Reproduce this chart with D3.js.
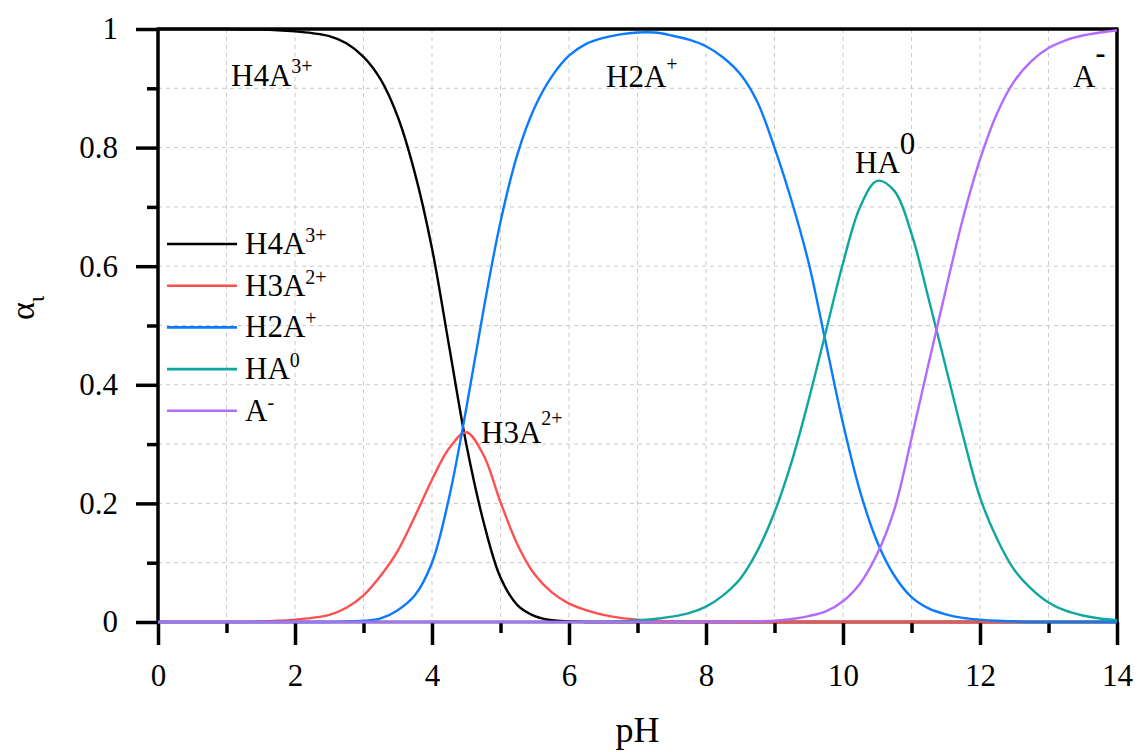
<!DOCTYPE html>
<html>
<head>
<meta charset="utf-8">
<script src="https://cdn.jsdelivr.net/npm/d3@7.9.0/dist/d3.min.js"></script>
<style>
  body { margin: 0; background: #fff; }
  svg { display: block; font-family: 'Liberation Serif', 'Times New Roman', serif; }
</style>
</head>
<body>
<svg id="chart" width="1138" height="752"></svg>
<script>
// pH grid, one row per whole pH unit
const pH = [
  0, 0.25, 0.5, 0.75,
  1, 1.25, 1.5, 1.75,
  2, 2.25, 2.5, 2.75,
  3, 3.25, 3.5, 3.75,
  4, 4.25, 4.5, 4.75,
  5, 5.25, 5.5, 5.75,
  6, 6.25, 6.5, 6.75,
  7, 7.25, 7.5, 7.75,
  8, 8.25, 8.5, 8.75,
  9, 9.25, 9.5, 9.75,
  10, 10.25, 10.5, 10.75,
  11, 11.25, 11.5, 11.75,
  12, 12.25, 12.5, 12.75,
  13, 13.25, 13.5, 13.75,
  14
];

// species fractions
const h4a = [
  1, 1, 1, 1,
  1, 0.999, 0.999, 0.998,
  0.996, 0.993, 0.988, 0.976,
  0.953, 0.915, 0.852, 0.757,
  0.63, 0.465, 0.30, 0.17,
  0.075, 0.028, 0.01, 0.003,
  0.001, 0, 0, 0,
  0, 0, 0, 0,
  0, 0, 0, 0,
  0, 0, 0, 0,
  0, 0, 0, 0,
  0, 0, 0, 0,
  0, 0, 0, 0,
  0, 0, 0, 0,
  0
];
const h3a = [
  0, 0, 0, 0,
  0, 0, 0.001, 0.002,
  0.004, 0.007, 0.012, 0.024,
  0.045, 0.078, 0.12, 0.178,
  0.24, 0.293, 0.32, 0.282,
  0.202, 0.13, 0.08, 0.05,
  0.031, 0.02, 0.012, 0.007,
  0.004, 0.002, 0.001, 0,
  0, 0, 0, 0,
  0, 0, 0, 0,
  0, 0, 0, 0,
  0, 0, 0, 0,
  0, 0, 0, 0,
  0, 0, 0, 0,
  0
];
const h2a = [
  0, 0, 0, 0,
  0, 0, 0, 0,
  0, 0, 0, 0.001,
  0.002, 0.006, 0.02, 0.045,
  0.1, 0.21, 0.36, 0.525,
  0.675, 0.79, 0.868, 0.92,
  0.955, 0.975, 0.985, 0.991,
  0.994, 0.994, 0.989, 0.982,
  0.971, 0.952, 0.924, 0.877,
  0.80, 0.71, 0.605, 0.47,
  0.335, 0.22, 0.135, 0.078,
  0.042, 0.023, 0.013, 0.007,
  0.004, 0.002, 0.001, 0,
  0, 0, 0, 0,
  0
];
const ha = [
  0, 0, 0, 0,
  0, 0, 0, 0,
  0, 0, 0, 0,
  0, 0, 0, 0,
  0, 0, 0, 0,
  0, 0, 0, 0,
  0, 0, 0, 0.001,
  0.003, 0.005, 0.009, 0.015,
  0.026, 0.045, 0.073, 0.12,
  0.185, 0.27, 0.375, 0.49,
  0.605, 0.70, 0.744, 0.727,
  0.655, 0.545, 0.43, 0.315,
  0.21, 0.14, 0.088, 0.056,
  0.033, 0.019, 0.011, 0.006,
  0.003
];
const aMinus = [
  0, 0, 0, 0,
  0, 0, 0, 0,
  0, 0, 0, 0,
  0, 0, 0, 0,
  0, 0, 0, 0,
  0, 0, 0, 0,
  0, 0, 0, 0,
  0, 0, 0, 0,
  0, 0, 0.001, 0.001,
  0.002, 0.005, 0.01, 0.018,
  0.035, 0.065, 0.115, 0.19,
  0.31, 0.436, 0.56, 0.68,
  0.78, 0.858, 0.912, 0.946,
  0.968, 0.981, 0.989, 0.994,
  0.998
];

const names = ['H4A', 'H3A', 'H2A', 'HA', 'A'];
const charges = ['3+', '2+', '+', '0', '-'];
const colors = ['#000000', '#ff5050', '#0a7bff', '#0ea69f', '#b36bff'];
const xMajor = [0, 2, 4, 6, 8, 10, 12, 14];
const xMinor = [1, 3, 5, 7, 9, 11, 13];
const yMajor = [0, 0.2, 0.4, 0.6, 0.8, 1];
const yMinor = [0.1, 0.3, 0.5, 0.7, 0.9];

const seriesValues = [h4a, h3a, h2a, ha, aMinus];
const series = names.map((n, i) => ({
  name: n,
  charge: charges[i],
  color: colors[i],
  points: pH.map((p, j) => [p, seriesValues[i][j]]),
}));

const plot = { left: 158, right: 1117, top: 29, bottom: 622 };

const svg = d3.select('#chart');

const xScale = d3.scaleLinear().domain([0, 14]).range([plot.left, plot.right]);
const yScale = d3.scaleLinear().domain([0, 1]).range([plot.bottom, plot.top]);

// dashed grid
const grid = svg.append('g')
  .attr('stroke', '#c9c9c9')
  .attr('stroke-width', 1)
  .attr('stroke-dasharray', '4,4');

grid.selectAll('line.v')
  .data(d3.range(1, 14))
  .join('line')
  .attr('class', 'v')
  .attr('x1', (d) => xScale(d)).attr('x2', (d) => xScale(d))
  .attr('y1', plot.top).attr('y2', plot.bottom);

grid.selectAll('line.h')
  .data(d3.range(1, 10).map((d) => d / 10))
  .join('line')
  .attr('class', 'h')
  .attr('x1', plot.left).attr('x2', plot.right)
  .attr('y1', (d) => yScale(d)).attr('y2', (d) => yScale(d));

// axes
const axisW = 3.5;
const fontTick = 31;

function styleAxis(g) {
  g.select('.domain').remove();
  g.selectAll('.tick line').attr('stroke', '#000').attr('stroke-width', axisW);
  g.selectAll('.tick text')
    .attr('fill', '#000')
    .style('font-size', fontTick + 'px')
    .style('font-family', "'Liberation Serif', 'Times New Roman', serif");
}

svg.append('g')
  .attr('transform', `translate(0, ${plot.bottom})`)
  .call(d3.axisBottom(xScale).tickValues(xMinor).tickSize(11).tickFormat(''))
  .call(styleAxis);

svg.append('g')
  .attr('transform', `translate(0, ${plot.bottom})`)
  .call(d3.axisBottom(xScale).tickValues(xMajor).tickSize(23).tickPadding(19).tickFormat(d3.format('d')))
  .call(styleAxis);

svg.append('g')
  .attr('transform', `translate(${plot.left}, 0)`)
  .call(d3.axisLeft(yScale).tickValues(yMinor).tickSize(11).tickFormat(''))
  .call(styleAxis);

svg.append('g')
  .attr('transform', `translate(${plot.left}, 0)`)
  .call(d3.axisLeft(yScale).tickValues(yMajor).tickSize(22).tickPadding(18).tickFormat((d) => String(+d.toFixed(1))))
  .call(styleAxis);

// frame: left, bottom, top, right
const frame = svg.append('g').attr('stroke', '#000').attr('stroke-width', axisW).attr('fill', 'none');
frame.append('line').attr('x1', plot.left).attr('x2', plot.left).attr('y1', plot.top - 1.5).attr('y2', plot.bottom + 1.5);
frame.append('line').attr('x1', plot.left).attr('x2', plot.right).attr('y1', plot.bottom).attr('y2', plot.bottom).attr('stroke-width', 2.5);
frame.append('line').attr('x1', plot.left).attr('x2', plot.right + 1.5).attr('y1', plot.top).attr('y2', plot.top);
frame.append('line').attr('x1', plot.right).attr('x2', plot.right).attr('y1', plot.top).attr('y2', plot.bottom);

// curves
const line = d3.line()
  .x((d) => xScale(d[0]))
  .y((d) => yScale(d[1]))
  .curve(d3.curveCatmullRom.alpha(0.5));

svg.append('g')
  .selectAll('path')
  .data(series)
  .join('path')
  .attr('d', (d) => line(d.points))
  .attr('fill', 'none')
  .attr('stroke', (d) => d.color)
  .attr('stroke-width', 2.4);

// legend
const legend = svg.append('g').attr('transform', 'translate(167, 244)');
const rows = legend.selectAll('g')
  .data(series)
  .join('g')
  .attr('transform', (d, i) => `translate(0, ${i * 41.7})`);

rows.append('line')
  .attr('x1', 0).attr('x2', 70)
  .attr('stroke', (d) => d.color)
  .attr('stroke-width', 2.6);

const legText = rows.append('text')
  .attr('x', 78)
  .attr('y', 10)
  .style('font-size', '31px')
  .attr('fill', '#000');
legText.append('tspan').text((d) => d.name);
legText.append('tspan')
  .attr('dy', -12)
  .style('font-size', '20px')
  .text((d) => d.charge);

// labels inside the plot
function label(x, y, main, sup, supSize, supDy, supWeight) {
  const t = svg.append('text')
    .attr('x', x).attr('y', y)
    .style('font-size', '31px')
    .attr('fill', '#000');
  t.append('tspan').text(main);
  t.append('tspan')
    .attr('dy', supDy)
    .style('font-size', supSize + 'px')
    .style('font-weight', supWeight || 'normal')
    .text(sup);
}

label(231, 86, 'H4A', '3+', 20, -13);
label(606, 87, 'H2A', '+', 20, -16);
label(481, 443, 'H3A', '2+', 20, -18);
label(855, 173, 'HA', '0', 31, -19);
label(1073, 87, 'A', '-', 30, -24, 'bold');

// axis titles
svg.append('text')
  .attr('x', (plot.left + plot.right) / 2)
  .attr('y', 742)
  .attr('text-anchor', 'middle')
  .style('font-size', '36px')
  .text('pH');

const yTitle = svg.append('text')
  .attr('transform', 'translate(34, 320) rotate(-90)')
  .style('font-size', '34px');
yTitle.append('tspan').text('α');
yTitle.append('tspan')
  .attr('dy', 10)
  .style('font-size', '24px')
  .text('ι');
</script>
</body>
</html>
